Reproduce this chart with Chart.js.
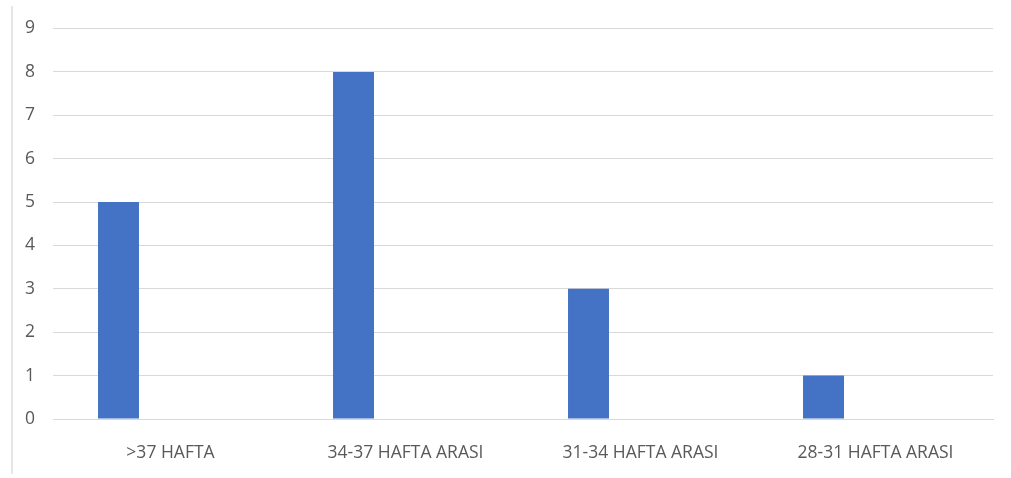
<!DOCTYPE html>
<html>
<head>
<meta charset="utf-8">
<script src="https://cdn.jsdelivr.net/npm/chart.js@4"></script>
<style>
  html, body { margin: 0; padding: 0; background: #fff; }
  #wrap { position: relative; width: 1011px; height: 478px; }
  #edge { position: absolute; left: 11px; top: 6px; width: 2px; height: 468px; background: #e6e6e6; }
</style>
</head>
<body>
<div id="wrap">
  <div id="edge"></div>
  <canvas id="chart" width="1011" height="478"></canvas>
</div>
<script>
const categories = ['>37 HAFTA', '34-37 HAFTA ARASI', '31-34 HAFTA ARASI', '28-31 HAFTA ARASI'];
const counts = [5, 8, 3, 1];
// second series is empty in the original, but it keeps the bars left of centre
const emptySeries = [null, null, null, null];
const yTicks = [0, 1, 2, 3, 4, 5, 6, 7, 8, 9];

const ctx = document.getElementById('chart').getContext('2d');
new Chart(ctx, {
  type: 'bar',
  data: {
    labels: categories,
    datasets: [
      {
        label: 'Seri 1',
        data: counts,
        backgroundColor: '#4472c4',
        categoryPercentage: 0.885,
        barPercentage: 0.394
      },
      {
        label: 'Seri 2',
        data: emptySeries,
        backgroundColor: '#ed7d31',
        categoryPercentage: 0.885,
        barPercentage: 0.394
      }
    ]
  },
  options: {
    responsive: false,
    animation: false,
    layout: { padding: { top: 25, right: 18, left: 0, bottom: 0 } },
    plugins: {
      legend: { display: false },
      tooltip: { enabled: false }
    },
    scales: {
      x: {
        grid: { display: false },
        border: { color: '#d9d9d9' },
        ticks: {
          color: '#595959',
          font: { family: 'Open Sans', size: 17.5 },
          padding: 16,
          maxRotation: 0
        },
        afterFit: (scale) => { scale.height = 59; }
      },
      y: {
        min: 0,
        max: 9,
        border: { display: false },
        grid: { color: '#d9d9d9', drawTicks: false, lineWidth: 1 },
        afterBuildTicks: (scale) => { scale.ticks = yTicks.map(v => ({ value: v })); },
        ticks: {
          color: '#595959',
          font: { family: 'Open Sans', size: 17.5 },
          padding: 18
        },
        afterFit: (scale) => { scale.width = 53; }
      }
    }
  }
});
</script>
</body>
</html>
